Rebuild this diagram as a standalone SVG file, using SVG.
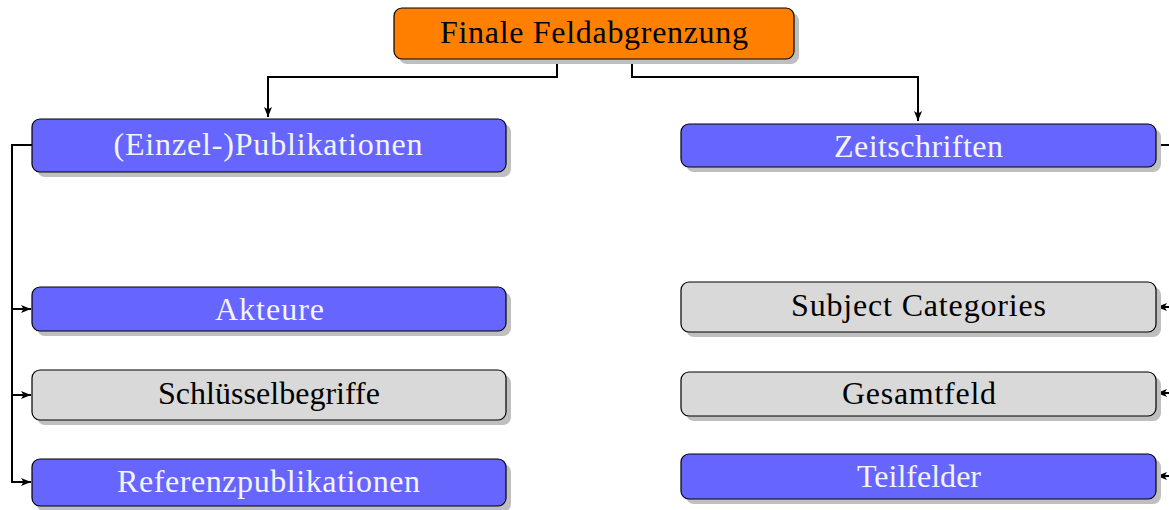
<svg xmlns="http://www.w3.org/2000/svg" width="1169" height="510" viewBox="0 0 1169 510">
<style>
.box{stroke:#000;stroke-width:1.2}
.sh{fill:#bfbfbf}
.o{fill:#ff8000}
.b{fill:#6666ff}
.g{fill:#d9d9d9}
text{font-family:"Liberation Serif","DejaVu Serif",serif;font-size:32px;text-anchor:middle}
.tw{fill:#f4f4ff}
.tk{fill:#000}
.c{fill:none;stroke:#000;stroke-width:2}
</style>
<defs>
<marker id="ah" viewBox="0 0 10 8" refX="10" refY="4" markerWidth="10" markerHeight="8" markerUnits="userSpaceOnUse" orient="auto">
<path d="M0,0 L10,4 L0,8 L2.5,4 Z" fill="#000"/>
</marker>
</defs>
<rect width="1169" height="510" fill="#fff"/>
<g id="connectors">
<path class="c" d="M557,58 V77 H268 V117" marker-end="url(#ah)"/>
<path class="c" d="M632,58 V77 H918 V121" marker-end="url(#ah)"/>
<path class="c" d="M32,145 H12 V482 H31" marker-end="url(#ah)"/>
<path class="c" d="M12,309 H31" marker-end="url(#ah)"/>
<path class="c" d="M12,395 H31" marker-end="url(#ah)"/>
<path class="c" d="M1156,145 H1169"/>
<path class="c" d="M1169,307 H1157" marker-end="url(#ah)"/>
<path class="c" d="M1169,393 H1157" marker-end="url(#ah)"/>
<path class="c" d="M1169,476 H1157" marker-end="url(#ah)"/>
</g>
<g id="n-top">
<rect class="sh" x="399" y="13" width="400" height="51" rx="8"/>
<rect class="box o" x="394" y="8" width="400" height="51" rx="8"/>
<text class="tk" x="594" y="43" textLength="308">Finale Feldabgrenzung</text>
</g>
<g id="n-einzel">
<rect class="sh" x="37" y="124" width="474" height="53" rx="8"/>
<rect class="box b" x="32" y="119" width="474" height="53" rx="8"/>
<text class="tw" x="268" y="155" textLength="309">(Einzel-)Publikationen</text>
</g>
<g id="n-zeit">
<rect class="sh" x="686" y="129" width="475" height="43" rx="8"/>
<rect class="box b" x="681" y="124" width="475" height="43" rx="8"/>
<text class="tw" x="918.5" y="157" textLength="169">Zeitschriften</text>
</g>
<g id="n-akteure">
<rect class="sh" x="37" y="292" width="474" height="44" rx="8"/>
<rect class="box b" x="32" y="287" width="474" height="44" rx="8"/>
<text class="tw" x="269.5" y="320" textLength="109">Akteure</text>
</g>
<g id="n-schl">
<rect class="sh" x="37" y="375" width="474" height="50" rx="8"/>
<rect class="box g" x="32" y="370" width="474" height="50" rx="8"/>
<text class="tk" x="269" y="404" textLength="222">Schlüsselbegriffe</text>
</g>
<g id="n-ref">
<rect class="sh" x="37" y="464" width="474" height="48" rx="8"/>
<rect class="box b" x="32" y="459" width="474" height="47" rx="8"/>
<text class="tw" x="268.5" y="492" textLength="303">Referenzpublikationen</text>
</g>
<g id="n-subj">
<rect class="sh" x="686" y="287" width="475" height="50" rx="8"/>
<rect class="box g" x="681" y="282" width="475" height="50" rx="8"/>
<text class="tk" x="918.5" y="316" textLength="255">Subject Categories</text>
</g>
<g id="n-gesamt">
<rect class="sh" x="686" y="377" width="475" height="44" rx="8"/>
<rect class="box g" x="681" y="372" width="475" height="44" rx="8"/>
<text class="tk" x="919" y="404" textLength="154">Gesamtfeld</text>
</g>
<g id="n-teil">
<rect class="sh" x="686" y="459" width="475" height="45" rx="8"/>
<rect class="box b" x="681" y="454" width="475" height="45" rx="8"/>
<text class="tw" x="919" y="487" textLength="124">Teilfelder</text>
</g>
</svg>
